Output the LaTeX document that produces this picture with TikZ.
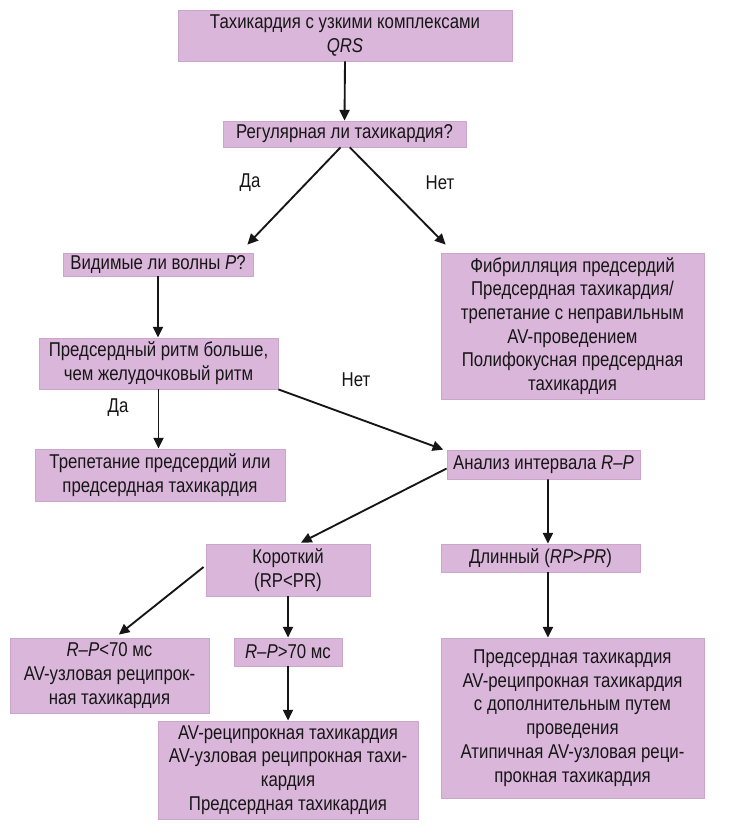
\documentclass[tikz,border=0pt]{standalone}
\usepackage{fontspec}
\setmainfont{Liberation Sans}[FakeStretch=0.84]
\usetikzlibrary{arrows.meta,calc}
\definecolor{boxfill}{RGB}{218,183,218}
\definecolor{boxedge}{RGB}{204,164,204}
\definecolor{ink}{RGB}{22,22,22}
\begin{document}
\begin{tikzpicture}[x=0.75pt,y=-0.75pt,
  every node/.style={font=\fontsize{15}{17.8}\selectfont, text=ink},
  box/.style={draw=boxedge, line width=0.6pt, fill=boxfill, inner sep=0pt, align=center},
  arr/.style={-{Triangle[length=8pt,width=7.5pt]}, line width=1.4pt, draw=ink},
  lbl/.style={inner sep=0pt}]
\useasboundingbox[fill=white] (0,0) rectangle (756,832);

\node[box, minimum width=250.5pt, minimum height=38.25pt] (top) at (345,35.5) {Тахикардия с узкими комплексами\\\textit{QRS}};
\node[box, minimum width=182.25pt, minimum height=19.5pt] (reg) at (344.5,134) {Регулярная ли тахикардия?};
\node[box, minimum width=142.5pt, minimum height=17.25pt] (vid) at (158,264.5) {Видимые ли волны \textit{P}?};
\node[box, minimum width=197.25pt, minimum height=109.5pt] (fib) at (572.5,326) {Фибрилляция предсердий\\Предсердная тахикардия/\\трепетание с неправильным\\AV-проведением\\Полифокусная предсердная\\тахикардия};
\node[box, minimum width=179.25pt, minimum height=38.25pt] (pred) at (158.5,363.5) {Предсердный ритм больше,\\чем желудочковый ритм};
\node[box, minimum width=187.5pt, minimum height=39pt] (trep) at (160,475) {Трепетание предсердий или\\предсердная тахикардия};
\node[box, minimum width=144.75pt, minimum height=21.75pt] (anal) at (543.5,464.5) {Анализ интервала \textit{R–P}};
\node[box, minimum width=123pt, minimum height=39pt] (kor) at (288,570) {Короткий\\(RP<PR)};
\node[box, minimum width=149.25pt, minimum height=21pt] (dlin) at (540.5,558) {Длинный (\textit{RP}>\textit{PR})};
\node[box, minimum width=149.25pt, minimum height=56.25pt] (lt) at (109.5,675.5) {\textit{R–P}<70 мс\\AV-узловая реципрок-\\ная тахикардия};
\node[box, minimum width=81pt, minimum height=21pt] (gt) at (288,652) {\textit{R–P}>70 мс};
\node[box, minimum width=195pt, minimum height=73.5pt] (avr) at (288,770) {AV-реципрокная тахикардия\\AV-узловая реципрокная тахи-\\кардия\\Предсердная тахикардия};
\node[box, minimum width=197.25pt, minimum height=120pt] (rt) at (572.5,718) {Предсердная тахикардия\\AV-реципрокная тахикардия\\с дополнительным путем\\проведения\\Атипичная AV-узловая реци-\\прокная тахикардия};

\node[lbl] (da1) at (250,183) {Да};
\node[lbl] (net1) at (440,183) {Нет};
\node[lbl] (da2) at (118,408) {Да};
\node[lbl] (net2) at (356,380) {Нет};

\draw[arr] (top.south) -- (reg.north);
\draw[arr] ([xshift=-3pt]reg.south) -- ([xshift=-4.5pt,yshift=6pt]vid.north east);
\draw[arr] ([xshift=4pt]reg.south) -- ([xshift=3.75pt,yshift=6pt]fib.north west);
\draw[arr] (vid.south) -- (vid.south |- pred.north);
\draw[arr] (pred.south) -- (pred.south |- trep.north);
\draw[arr] (pred.south east) -- ([xshift=-2.5pt]anal.north west);
\draw[arr] ([yshift=-3pt]anal.west) -- ([xshift=9.75pt,yshift=0.75pt]kor.north);
\draw[arr] ([xshift=3.4pt]anal.south) -- ([xshift=5.6pt]dlin.north);
\draw[arr] ([xshift=-1.5pt,yshift=2.25pt]kor.west) -- ([xshift=7pt,yshift=2.25pt]lt.north);
\draw[arr] (kor.south) -- (gt.north);
\draw[arr] ([xshift=5.6pt]dlin.south) -- ([xshift=-18.4pt]rt.north);
\draw[arr] (gt.south) -- (avr.north);
\end{tikzpicture}
\end{document}
